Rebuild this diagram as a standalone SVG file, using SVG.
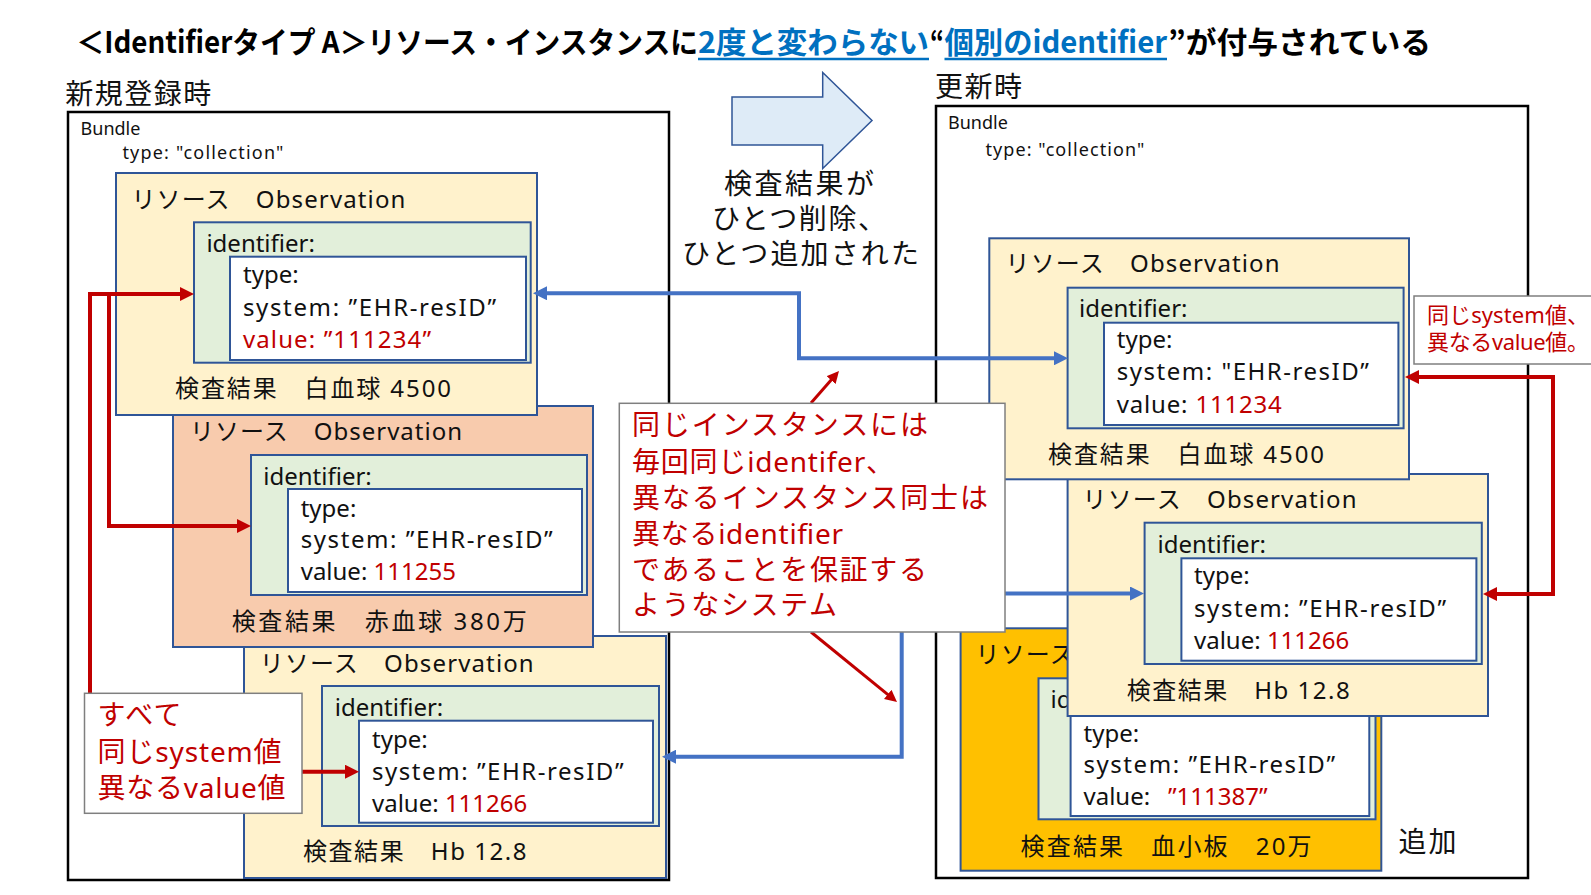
<svg xmlns="http://www.w3.org/2000/svg" width="1591" height="895" viewBox="0 0 1591 895">
<defs>
<style>
.f{font-family:'Noto Sans','Noto Sans CJK JP',sans-serif;fill:#111}
.tt{font-family:'Noto Sans CJK JP','Noto Sans',sans-serif;font-weight:700;font-size:30px;fill:#000}
.res{stroke:#2F5597;stroke-width:2}
.y{fill:#FFF2CC}.s{fill:#F8CBAD}.o{fill:#FFC000}.g{fill:#E2EFDA}.w{fill:#fff}
.b24{font-size:24px}
.b18{font-size:18px}
.b28{font-size:28px}
.red{fill:#C00000}
.call{fill:#fff;stroke:#7F7F7F;stroke-width:1.5}
.bundle{fill:#fff;stroke:#000;stroke-width:2.5}
.rl{fill:none;stroke:#C00000;stroke-width:4}
.rl3{fill:none;stroke:#C00000;stroke-width:3}
.bl{fill:none;stroke:#4472C4;stroke-width:4}
</style>
<marker id="ar" viewBox="0 0 10 10" refX="4.3" refY="5" markerWidth="14" markerHeight="14" markerUnits="userSpaceOnUse" orient="auto-start-reverse"><path d="M0,0 L10,5 L0,10 z" fill="#C00000"/></marker>
<marker id="ar3" viewBox="0 0 10 10" refX="4.2" refY="5" markerWidth="12" markerHeight="12" markerUnits="userSpaceOnUse" orient="auto-start-reverse"><path d="M0,0 L10,5 L0,10 z" fill="#C00000"/></marker>
<marker id="ab" viewBox="0 0 10 10" refX="4.3" refY="5" markerWidth="14" markerHeight="14" markerUnits="userSpaceOnUse" orient="auto-start-reverse"><path d="M0,0 L10,5 L0,10 z" fill="#4472C4"/></marker>
</defs>
<rect width="1591" height="895" fill="#fff"/>

<g id="title">
<text class="tt" x="76.5" y="53" textLength="621.5" lengthAdjust="spacingAndGlyphs">＜Identifierタイプ A＞リソース・インスタンスに</text>
<text class="tt" x="698" y="53" textLength="231" lengthAdjust="spacingAndGlyphs" style="fill:#0070C0">2度と変わらない</text>
<text class="tt" x="930" y="53" textLength="14" lengthAdjust="spacingAndGlyphs">“</text>
<text class="tt" x="944.5" y="53" textLength="222.5" lengthAdjust="spacingAndGlyphs" style="fill:#0070C0">個別のidentifier</text>
<text class="tt" x="1168" y="53" textLength="263" lengthAdjust="spacingAndGlyphs">”が付与されている</text>
<line x1="698" y1="59" x2="929" y2="59" stroke="#0070C0" stroke-width="2.5"/>
<line x1="944.5" y1="59" x2="1167" y2="59" stroke="#0070C0" stroke-width="2.5"/>
</g>

<g id="label-new"><text class="f b28" x="65.3" y="104" textLength="146">新規登録時</text></g>
<g id="label-update"><text class="f b28" x="935" y="97.3" textLength="87">更新時</text></g>

<g id="bundle-new">
<rect class="bundle" x="68" y="112" width="601" height="768"/>
<text class="f b18" x="80.6" y="135">Bundle</text>
<text class="f b18" x="122.4" y="159.3" textLength="161">type: "collection"</text>
</g>

<g id="bundle-update">
<rect class="bundle" x="936" y="106" width="592" height="772"/>
<text class="f b18" x="948" y="129.3">Bundle</text>
<text class="f b18" x="985.4" y="156" textLength="159">type: "collection"</text>
</g>

<g id="obs-hb-new">
<rect class="res y" x="244" y="636" width="422" height="242"/>
<text class="f b24" x="259.7" y="671.7" textLength="274">リソース　Observation</text>
<rect class="res g" x="322" y="686" width="337" height="140"/>
<text class="f b24" x="334.8" y="716">identifier:</text>
<rect class="res w" x="359" y="720.7" width="294" height="102"/>
<text class="f b24" x="372" y="748.3">type:</text>
<text class="f b24" x="372" y="780" textLength="251.5">system: ”EHR-resID”</text>
<text class="f b24" x="372" y="811.7">value: <tspan class="red">111266</tspan></text>
<text class="f b24" x="303" y="860" textLength="223.6">検査結果　Hb 12.8</text>
</g>

<g id="obs-rbc-new">
<rect class="res s" x="173" y="406" width="420" height="241"/>
<text class="f b24" x="190" y="440" textLength="272">リソース　Observation</text>
<rect class="res g" x="251" y="455" width="336" height="140"/>
<text class="f b24" x="263.3" y="485">identifier:</text>
<rect class="res w" x="288" y="489" width="294" height="103"/>
<text class="f b24" x="300.7" y="516.7">type:</text>
<text class="f b24" x="300.7" y="548.3" textLength="252">system: ”EHR-resID”</text>
<text class="f b24" x="300.7" y="580">value: <tspan class="red">111255</tspan></text>
<text class="f b24" x="231.7" y="630" textLength="295">検査結果　赤血球  380万</text>
</g>

<g id="obs-wbc-new">
<rect class="res y" x="116" y="173" width="421" height="242"/>
<text class="f b24" x="131.4" y="208.3" textLength="274">リソース　Observation</text>
<rect class="res g" x="194" y="222.3" width="336.7" height="140.4"/>
<text class="f b24" x="206.4" y="251.7">identifier:</text>
<rect class="res w" x="230" y="256.7" width="296" height="103.3"/>
<text class="f b24" x="243" y="283">type:</text>
<text class="f b24" x="243" y="315.7" textLength="253">system: ”EHR-resID”</text>
<text class="f b24 red" x="243" y="347.7" textLength="188">value: ”111234”</text>
<text class="f b24" x="175" y="397" textLength="276">検査結果　白血球 4500</text>
</g>

<g id="obs-plt-update">
<rect class="res o" x="960.6" y="628.3" width="420.7" height="242.4"/>
<text class="f b24" x="975.6" y="663.3" textLength="274">リソース　Observation</text>
<rect class="res g" x="1038.5" y="678.3" width="337" height="141"/>
<text class="f b24" x="1050.5" y="708.3">identifier:</text>
<rect class="res w" x="1070.6" y="712" width="298.7" height="104"/>
<text class="f b24" x="1083.5" y="741.7">type:</text>
<text class="f b24" x="1083.5" y="773.3" textLength="251.5">system: ”EHR-resID”</text>
<text class="f b24" x="1083.5" y="805">value: <tspan class="red" x="1168">”111387”</tspan></text>
<text class="f b24" x="1020.6" y="855" textLength="291">検査結果　血小板　20万</text>
</g>

<g id="obs-hb-update">
<rect class="res y" x="1067.6" y="474" width="420.4" height="242"/>
<text class="f b24" x="1082.6" y="508.3" textLength="274">リソース　Observation</text>
<rect class="res g" x="1144.6" y="522.7" width="337.2" height="141.3"/>
<text class="f b24" x="1157.5" y="553.3">identifier:</text>
<rect class="res w" x="1181.4" y="558.3" width="295" height="102.4"/>
<text class="f b24" x="1194" y="584">type:</text>
<text class="f b24" x="1194" y="616.7" textLength="252">system: ”EHR-resID”</text>
<text class="f b24" x="1194" y="649.3">value: <tspan class="red">111266</tspan></text>
<text class="f b24" x="1126.7" y="699.3" textLength="223">検査結果　Hb 12.8</text>
</g>

<g id="obs-wbc-update">
<rect class="res y" x="989.3" y="238.3" width="419.7" height="241"/>
<text class="f b24" x="1005.6" y="272.3" textLength="274">リソース　Observation</text>
<rect class="res g" x="1067.6" y="287.7" width="336" height="140.6"/>
<text class="f b24" x="1079" y="317.3">identifier:</text>
<rect class="res w" x="1104" y="322.7" width="294.4" height="102.3"/>
<text class="f b24" x="1116.8" y="348.3">type:</text>
<text class="f b24" x="1116.8" y="380" textLength="252">system: "EHR-resID”</text>
<text class="f b24" x="1116.8" y="412.7" textLength="165">value: <tspan class="red">111234</tspan></text>
<text class="f b24" x="1048" y="463.3" textLength="276">検査結果　白血球 4500</text>
</g>

<g id="connectors">
<path class="rl" d="M90,693 V294 H186" marker-end="url(#ar)"/>
<path class="rl" d="M109,294 V526 H243" marker-end="url(#ar)"/>
<path class="rl" d="M302,771.7 H351" marker-end="url(#ar)"/>
<path class="bl" d="M541,293.3 H799 V358.3 H1060" marker-start="url(#ab)" marker-end="url(#ab)"/>
<path class="bl" d="M670,756.7 H901.7 V593.5 H1136" marker-start="url(#ab)" marker-end="url(#ab)"/>
<path class="rl" d="M1491,594 H1553 V377 H1413" marker-start="url(#ar)" marker-end="url(#ar)"/>
<path class="rl3" d="M811,403 L834.4,376.3" marker-end="url(#ar3)"/>
<path class="rl3" d="M811,632 L891.6,697.6" marker-end="url(#ar3)"/>
</g>

<g id="note-left">
<rect class="call" x="84.5" y="693.3" width="217.5" height="120"/>
<text class="f b28 red" x="97.6" y="725" textLength="84">すべて</text>
<text class="f b28 red" x="97.6" y="761.7" textLength="184">同じsystem値</text>
<text class="f b28 red" x="97.6" y="798.3" textLength="188">異なるvalue値</text>
</g>

<g id="note-center">
<rect class="call" x="619.3" y="403.3" width="385.7" height="228.7"/>
<text class="f b28 red" x="632" y="435" textLength="296">同じインスタンスには</text>
<text class="f b28 red" x="632" y="472" textLength="262">毎回同じidentifer、</text>
<text class="f b28 red" x="632" y="508" textLength="356">異なるインスタンス同士は</text>
<text class="f b28 red" x="632" y="544" textLength="211">異なるidentifier</text>
<text class="f b28 red" x="632" y="580" textLength="295">であることを保証する</text>
<text class="f b28 red" x="632" y="615" textLength="205">ようなシステム</text>
</g>

<g id="note-right">
<rect class="call" x="1414" y="296" width="185" height="68"/>
<text class="f red" style="font-size:22px" x="1427" y="322.7" textLength="162">同じsystem値、</text>
<text class="f red" style="font-size:22px" x="1427" y="350" textLength="162">異なるvalue値。</text>
</g>

<g id="change-arrow">
<polygon points="732,97 822.7,97 822.7,72.5 872,120.5 822.7,168.5 822.7,145 732,145" fill="#DEEBF7" stroke="#2F5597" stroke-width="1.5"/>
<text class="f b28" x="724" y="194" textLength="150">検査結果が</text>
<text class="f b28" x="712" y="229" textLength="174">ひとつ削除、</text>
<text class="f b28" x="682" y="264" textLength="237">ひとつ追加された</text>
</g>

<g id="label-added"><text class="f b28" x="1398.4" y="851.7" textLength="58">追加</text></g>
</svg>
